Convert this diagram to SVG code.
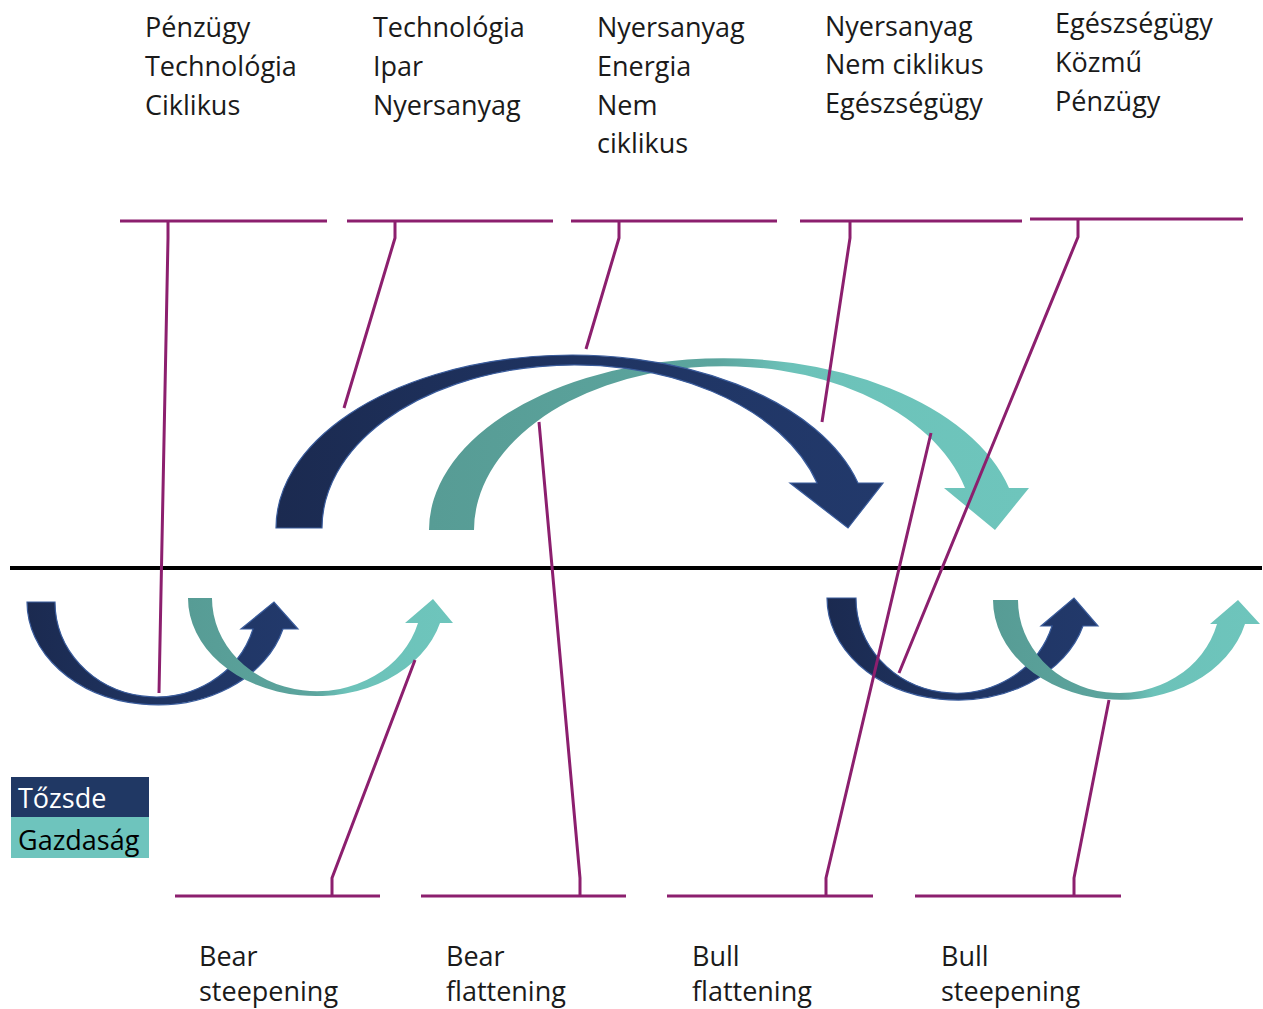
<svg xmlns="http://www.w3.org/2000/svg" width="1263" height="1009" viewBox="0 0 1263 1009">
  <defs>
    <linearGradient id="navy" x1="0" y1="0" x2="1" y2="0">
      <stop offset="0" stop-color="#1b2a50"/>
      <stop offset="0.5" stop-color="#1f3462"/>
      <stop offset="1" stop-color="#22396b"/>
    </linearGradient>
    <linearGradient id="teal" x1="0" y1="0" x2="1" y2="0">
      <stop offset="0" stop-color="#579c95"/>
      <stop offset="0.48" stop-color="#5ca59e"/>
      <stop offset="0.6" stop-color="#6cc2b9"/>
      <stop offset="1" stop-color="#6ec5bc"/>
    </linearGradient>
    <style>
      .lbl { font-family: "Open Sans", "Liberation Sans", sans-serif; font-size: 27px; fill: #1a1a1a; }
      .navy { fill: url(#navy); stroke: #3a5c9c; stroke-width: 1.2; stroke-linejoin: miter; }
      .teal { fill: url(#teal); stroke: none; }
      .call { fill: none; stroke: #8c1f6e; stroke-width: 3; stroke-linejoin: round; }
      .axis { stroke: #000; stroke-width: 4; }
    </style>
  </defs>

  <rect width="1263" height="1009" fill="#fff"/>

  <!-- sector labels above the chart -->
  <g id="label-1">
    <text class="lbl" x="145" y="37">Pénzügy</text>
    <text class="lbl" x="145" y="76">Technológia</text>
    <text class="lbl" x="145" y="115">Ciklikus</text>
  </g>
  <g id="label-2">
    <text class="lbl" x="373" y="37">Technológia</text>
    <text class="lbl" x="373" y="76">Ipar</text>
    <text class="lbl" x="373" y="115">Nyersanyag</text>
  </g>
  <g id="label-3">
    <text class="lbl" x="597" y="37">Nyersanyag</text>
    <text class="lbl" x="597" y="76">Energia</text>
    <text class="lbl" x="597" y="115">Nem</text>
    <text class="lbl" x="597" y="153">ciklikus</text>
  </g>
  <g id="label-4">
    <text class="lbl" x="825" y="36">Nyersanyag</text>
    <text class="lbl" x="825" y="74">Nem ciklikus</text>
    <text class="lbl" x="825" y="113">Egészségügy</text>
  </g>
  <g id="label-5">
    <text class="lbl" x="1055" y="33">Egészségügy</text>
    <text class="lbl" x="1055" y="72">Közmű</text>
    <text class="lbl" x="1055" y="111">Pénzügy</text>
  </g>

  <!-- yield-curve regime labels below -->
  <g id="regime-bear-steepening">
    <text class="lbl" x="199" y="966">Bear</text>
    <text class="lbl" x="199" y="1001">steepening</text>
  </g>
  <g id="regime-bear-flattening">
    <text class="lbl" x="446" y="966">Bear</text>
    <text class="lbl" x="446" y="1001">flattening</text>
  </g>
  <g id="regime-bull-flattening">
    <text class="lbl" x="692" y="966">Bull</text>
    <text class="lbl" x="692" y="1001">flattening</text>
  </g>
  <g id="regime-bull-steepening">
    <text class="lbl" x="941" y="966">Bull</text>
    <text class="lbl" x="941" y="1001">steepening</text>
  </g>

  <!-- baseline -->
  <line class="axis" x1="10" y1="568" x2="1262" y2="568"/>

  <!-- economy cycle (large, above) -->
  <g id="arc-economy-up">
    <path class="teal" d="M429 530 A294.5 172 0 0 1 1009 488 L1029 488 L995 530 L944 488 L965 488 A249.7 164 0 0 0 474 530 Z"/>
  </g>
  <!-- market cycle (large, above) -->
  <g id="arc-market-up">
    <path class="navy" d="M276 528 A296.1 173 0 0 1 858 483 L883 483 L848 528 L790 483 L817 483 A252.4 163 0 0 0 322 528 Z"/>
  </g>

  <!-- small cycles below the baseline -->
  <g id="arc-market-low-left">
    <path class="navy" d="M27 602 A130.3 103 0 0 0 283 629 L298 629 L274 602 L241 629 L253 629 A101.1 95 0 0 1 55 602 Z"/>
  </g>
  <g id="arc-economy-low-left">
    <path class="teal" d="M188 598 A128.1 98 0 0 0 440 623 L453 623 L433 599 L405 623 L418 623 A104.9 93 0 0 1 212 598 Z"/>
  </g>
  <g id="arc-market-low-right">
    <path class="navy" d="M827 598 A130.5 102 0 0 0 1083 626 L1098 626 L1074 598 L1041 626 L1052 626 A100.2 95 0 0 1 856 598 Z"/>
  </g>
  <g id="arc-economy-low-right">
    <path class="teal" d="M993 600 A127.9 100 0 0 0 1245 624 L1260 624 L1238 600 L1210 624 L1217 624 A101.2 93 0 0 1 1018 600 Z"/>
  </g>

  <!-- legend -->
  <g id="legend">
    <rect x="11" y="777" width="138" height="40" fill="#203864"/>
    <rect x="11" y="817" width="138" height="41" fill="#6ec4bd"/>
    <text class="lbl" x="18" y="808" style="fill:#fff">Tőzsde</text>
    <text class="lbl" x="18" y="850" style="fill:#000">Gazdaság</text>
  </g>

  <!-- callout connectors -->
  <g id="connectors">
    <path class="call" d="M120 221 H327 M168 221 V238 L159 693"/>
    <path class="call" d="M347 221 H553 M395 221 V238 L344 408"/>
    <path class="call" d="M571 221 H777 M619 221 V238 L586 349"/>
    <path class="call" d="M800 221 H1022 M850 221 V238 L822 422"/>
    <path class="call" d="M1030 219 H1243 M1078 219 V237 L899 673"/>
    <path class="call" d="M175 896 H380 M332 896 V878 L415 660"/>
    <path class="call" d="M421 896 H626 M580 896 V878 L539 422"/>
    <path class="call" d="M667 896 H873 M826 896 V878 L931 433"/>
    <path class="call" d="M915 896 H1121 M1074 896 V878 L1109 700"/>
  </g>
</svg>
